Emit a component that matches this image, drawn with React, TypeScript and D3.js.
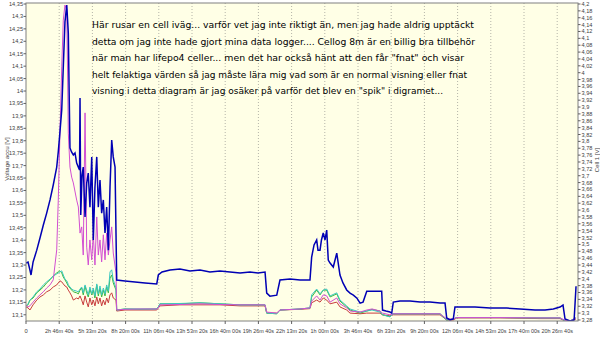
import React from 'react';
import * as d3 from 'd3';

// ---------- data ----------
const accuHours = [
  0, 0.17, 0.33, 0.42, 0.59, 0.9, 1.17, 1.45, 1.73, 2.01,
  2.28, 2.57, 2.7, 2.84, 2.99, 3.12, 3.26, 3.41, 3.54, 3.62,
  3.68, 3.81, 3.96, 4.1, 4.24, 4.38, 4.48, 4.52, 4.58, 4.69,
  4.79, 4.94, 5.08, 5.21, 5.35, 5.5, 5.63, 5.77, 5.92, 6.05,
  6.19, 6.33, 6.47, 6.61, 6.75, 6.89, 7.03, 7.17, 7.3, 7.45,
  7.53, 7.59, 8.28, 9.12, 9.96, 10.94, 11.07, 11.38, 12.05, 12.88,
  13.72, 14.56, 15.39, 16.23, 17.07, 17.91, 18.74, 19.41, 20.0, 20.14,
  20.41, 20.98, 21.25, 22.09, 22.93, 23.76, 23.9, 24.1, 24.32, 24.43,
  24.6, 24.72, 24.87, 25.02, 25.16, 25.29, 25.44, 25.71, 26.0, 26.27,
  26.52, 26.83, 27.11, 27.39, 27.69, 27.95, 28.2, 28.51, 28.95, 29.45,
  29.76, 29.83, 30.12, 30.45, 30.6, 30.73, 31.29, 32.13, 32.97, 33.8,
  34.64, 35.06, 35.2, 35.48, 35.75, 35.89, 36.73, 37.57, 38.82, 40.22,
  41.33, 42.59, 43.43, 44.12, 44.68, 44.93, 45.1, 45.52, 45.86, 46.02,
];
const accuVolt = [
  13.308, 13.312, 13.28, 13.26, 13.312, 13.36, 13.409, 13.461, 13.509, 13.562,
  13.622, 13.694, 13.755, 13.835, 13.924, 14.097, 14.278, 14.346, 14.233, 13.964,
  13.771, 13.755, 13.743, 13.751, 13.71, 13.694, 13.682, 13.972, 13.501, 13.662,
  13.694, 13.493, 13.63, 13.67, 13.533, 13.735, 13.401, 13.614, 13.735, 13.533,
  13.642, 13.509, 13.562, 13.429, 13.533, 13.36, 13.614, 13.803, 13.735, 13.694,
  13.429, 13.24, 13.236, 13.232, 13.228, 13.224, 13.26, 13.272, 13.28, 13.284,
  13.276, 13.28, 13.272, 13.276, 13.272, 13.268, 13.272, 13.268, 13.272, 13.187,
  13.175, 13.179, 13.24, 13.244, 13.24, 13.24, 13.332, 13.381, 13.401, 13.36,
  13.36, 13.401, 13.429, 13.401, 13.441, 13.32, 13.308, 13.292, 13.348, 13.26,
  13.228, 13.2, 13.187, 13.179, 13.167, 13.147, 13.151, 13.195, 13.195, 13.195,
  13.195, 13.119, 13.115, 13.111, 13.107, 13.151, 13.155, 13.155, 13.151, 13.151,
  13.147, 13.147, 13.087, 13.079, 13.083, 13.131, 13.131, 13.131, 13.127, 13.127,
  13.123, 13.119, 13.119, 13.123, 13.131, 13.139, 13.083, 13.075, 13.079, 13.215,
];

const cellHours = [
  0, 0.17, 0.33, 0.59, 0.9, 1.17, 1.45, 1.73, 2.01, 2.28,
  2.57, 2.7, 2.84, 2.99, 3.12, 3.26, 3.41, 3.49, 3.54, 3.68,
  3.82, 3.96, 4.24, 4.38, 4.52, 4.66, 4.79, 4.94, 5.08, 5.21,
  5.35, 5.5, 5.63, 5.77, 5.92, 6.05, 6.19, 6.33, 6.47, 6.61,
  6.75, 6.89, 7.03, 7.17, 7.3, 7.53, 7.59, 8.28, 9.54, 10.94,
  11.07, 11.21, 12.88, 14.56, 16.23, 17.91, 20.0, 20.14, 20.98, 21.25,
  22.93, 23.76, 23.9, 24.32, 24.6, 24.87, 25.16, 25.44, 26.0, 26.27,
  26.83, 27.11, 27.95, 28.51, 28.95, 29.62, 29.83, 30.45, 30.73, 32.97,
  34.64, 35.2, 35.75, 36.04, 39.66, 43.01, 44.68, 45.1, 45.52, 46.02,
];
const cellMagenta = [
  3.324, 3.318, 3.321, 3.332, 3.344, 3.353, 3.362, 3.373, 3.382, 3.397,
  3.484, 3.629, 3.824, 4.017, 4.153, 4.197, 4.183, 3.97, 3.824, 3.725,
  3.696, 3.679, 3.629, 3.609, 3.533, 3.551, 3.469, 3.883, 3.492, 3.44,
  3.513, 3.455, 3.528, 3.44, 3.58, 3.469, 3.513, 3.449, 3.528, 3.455,
  3.533, 3.469, 3.513, 3.551, 3.475, 3.417, 3.309, 3.311, 3.312, 3.312,
  3.315, 3.324, 3.325, 3.327, 3.325, 3.324, 3.324, 3.303, 3.3, 3.309,
  3.312, 3.315, 3.335, 3.35, 3.338, 3.353, 3.35, 3.332, 3.344, 3.327,
  3.315, 3.306, 3.303, 3.309, 3.312, 3.306, 3.3, 3.295, 3.298, 3.298,
  3.298, 3.283, 3.283, 3.287, 3.287, 3.286, 3.286, 3.279, 3.277, 3.286,
];
const cellGreen = [
  3.321, 3.324, 3.338, 3.344, 3.359, 3.367, 3.376, 3.388, 3.397, 3.408,
  3.417, 3.42, 3.423, 3.417, 3.405, 3.397, 3.388, 3.382, 3.379, 3.373,
  3.367, 3.362, 3.359, 3.356, 3.367, 3.373, 3.353, 3.379, 3.359, 3.347,
  3.37, 3.353, 3.367, 3.344, 3.382, 3.35, 3.373, 3.347, 3.367, 3.35,
  3.376, 3.359, 3.402, 3.411, 3.388, 3.367, 3.309, 3.312, 3.311, 3.312,
  3.318, 3.327, 3.327, 3.33, 3.327, 3.324, 3.324, 3.3, 3.298, 3.309,
  3.312, 3.315, 3.347, 3.367, 3.353, 3.367, 3.367, 3.347, 3.356, 3.335,
  3.318, 3.309, 3.3, 3.306, 3.311, 3.306, 3.295, 3.29, 3.298, 3.298,
  3.298, 3.28, 3.283, 3.287, 3.287, 3.286, 3.286, 3.277, 3.277, 3.286,
];
const cellCyan = [
  3.321, 3.327, 3.338, 3.347, 3.362, 3.37, 3.382, 3.391, 3.399, 3.408,
  3.414, 3.417, 3.42, 3.423, 3.411, 3.399, 3.394, 3.388, 3.382, 3.376,
  3.37, 3.367, 3.364, 3.362, 3.37, 3.376, 3.359, 3.382, 3.367, 3.353,
  3.376, 3.356, 3.373, 3.35, 3.385, 3.356, 3.379, 3.353, 3.373, 3.356,
  3.382, 3.364, 3.42, 3.426, 3.397, 3.373, 3.309, 3.312, 3.312, 3.312,
  3.318, 3.327, 3.328, 3.33, 3.327, 3.324, 3.324, 3.3, 3.298, 3.309,
  3.312, 3.315, 3.353, 3.37, 3.356, 3.367, 3.37, 3.35, 3.359, 3.338,
  3.321, 3.312, 3.303, 3.306, 3.309, 3.303, 3.295, 3.289, 3.298, 3.298,
  3.298, 3.28, 3.283, 3.287, 3.287, 3.286, 3.286, 3.277, 3.277, 3.286,
];
const cellRed = [
  3.318, 3.315, 3.309, 3.324, 3.338, 3.347, 3.353, 3.362, 3.367, 3.376,
  3.382, 3.388, 3.394, 3.391, 3.385, 3.379, 3.376, 3.37, 3.367, 3.359,
  3.35, 3.338, 3.344, 3.341, 3.35, 3.338, 3.324, 3.35, 3.332, 3.318,
  3.344, 3.324, 3.338, 3.321, 3.347, 3.327, 3.344, 3.321, 3.338, 3.324,
  3.344, 3.33, 3.353, 3.359, 3.344, 3.338, 3.306, 3.309, 3.309, 3.309,
  3.315, 3.321, 3.324, 3.324, 3.324, 3.321, 3.321, 3.3, 3.3, 3.309,
  3.311, 3.313, 3.33, 3.338, 3.332, 3.344, 3.338, 3.327, 3.332, 3.318,
  3.309, 3.3, 3.298, 3.3, 3.3, 3.3, 3.295, 3.292, 3.295, 3.295,
  3.295, 3.28, 3.28, 3.286, 3.286, 3.284, 3.284, 3.277, 3.277, 3.283,
];

const xTickSeconds = d3.range(0, 17).map((i) => i * 10000);
const xTickLabels = [
  '0', '2h 46m 40s', '5h 33m 20s', '8h 20m 00s', '11h 06m 40s', '13h 53m 20s',
  '16h 40m 00s', '19h 26m 40s', '22h 13m 20s', '1h 00m 00s', '3h 46m 40s',
  '6h 33m 20s', '9h 20m 00s', '12h 06m 40s', '14h 53m 20s', '17h 40m 00s', '20h 26m 40s',
];
const leftTicks = d3.range(262, 288).map((i) => i / 20); // 13.1 .. 14.35
const rightTicks = d3.range(164, 211).map((i) => i / 50); // 3.28 .. 4.2

const noteLines = [
  'Här rusar en cell iväg... varför vet jag inte riktigt än, men jag hade aldrig upptäckt',
  'detta om jag inte hade gjort mina data logger.... Cellog 8m är en billig bra tillbehör',
  'när man har lifepo4 celler... men det har också hänt att den får "fnat" och visar',
  'helt felaktiga värden så jag måste lära mig vad som är en normal visning eller fnat',
  'visning i detta diagram är jag osäker på varför det blev en "spik" i digramet...',
];
const noteWidths = [382, 383, 372, 375, 351];

// ---------- layout ----------
const W = 600;
const H = 337;
const L = 26;
const R = 578;
const T = 3;
const B = 321;

const x = d3.scaleLinear().domain([0, 166265]).range([L, R]);
const yL = d3.scaleLinear().domain([13.075, 14.35]).range([B, T + 1]);
const yR = d3.scaleLinear().domain([3.277, 4.2]).range([B, T + 1]);

const fmt = (v: number) => String(+v.toFixed(2)).replace('.', ',');

function linePath(hours: number[], vals: number[], y: d3.ScaleLinear<number, number>) {
  const pts = hours.map((h, i) => [h * 3600, vals[i]] as [number, number]);
  return d3
    .line<[number, number]>()
    .x((d) => x(d[0]))
    .y((d) => y(d[1]))(pts) as string;
}

const cellSeries = [
  { vals: cellRed, color: '#c83c3c' },
  { vals: cellGreen, color: '#3cb83c' },
  { vals: cellCyan, color: '#3cc8c0' },
  { vals: cellMagenta, color: '#d24fd2' },
];

export default function App() {
  const axisFont = 'Liberation Sans, Arial, sans-serif';
  return (
    <svg
      width={W}
      height={H}
      style={{ position: 'absolute', left: 0, top: 0, background: '#ffffff' }}
    >
      <defs>
        <clipPath id="plotClip">
          <rect x={L} y={T} width={R - L} height={B - T} />
        </clipPath>
      </defs>
      <rect x={0} y={0} width={W} height={H} fill="#ffffff" />
      <rect x={L} y={T} width={R - L} height={B - T} fill="#ffffe6" />
      {/* vertical dotted grid */}
      {xTickSeconds.slice(1).map((s) => (
        <line
          key={'g' + s}
          x1={x(s)}
          x2={x(s)}
          y1={T}
          y2={B}
          stroke="#b4b4a8"
          strokeWidth={1}
          strokeDasharray="1,2"
        />
      ))}
      {/* note text */}
      {noteLines.map((t, i) => (
        <text
          key={'n' + i}
          x={92}
          y={28 + i * 16.5}
          fontFamily="DejaVu Sans, sans-serif"
          fontSize={9.2}
          fill="#000"
          textLength={noteWidths[i]}
          lengthAdjust="spacingAndGlyphs"
        >
          {t}
        </text>
      ))}
      {/* series */}
      <g clipPath="url(#plotClip)" fill="none">
        {cellSeries.map((c, i) => (
          <path key={'c' + i} d={linePath(cellHours, c.vals, yR)} stroke={c.color} strokeWidth={1} />
        ))}
        <path d={linePath(accuHours, accuVolt, yL)} stroke="#0000b4" strokeWidth={1.5} />
      </g>
      {/* frame */}
      <rect x={L} y={T} width={R - L} height={B - T} fill="none" stroke="#808080" strokeWidth={1} />
      <g fontFamily={axisFont} fill="#404040">
        {leftTicks.map((v) => (
          <g key={'l' + v}>
            <line x1={L - 2.5} x2={L} y1={yL(v)} y2={yL(v)} stroke="#606060" />
            <text x={L - 3} y={yL(v) + 2} textAnchor="end" fontSize={5.6}>
              {fmt(v)}
            </text>
          </g>
        ))}
        {rightTicks.map((v) => (
          <g key={'r' + v}>
            <line x1={R} x2={R + 2.5} y1={yR(v)} y2={yR(v)} stroke="#606060" />
            <text x={R + 3.5} y={yR(v) + 2} textAnchor="start" fontSize={5.6}>
              {fmt(v)}
            </text>
          </g>
        ))}
        {xTickSeconds.map((s, i) => (
          <g key={'x' + s}>
            <line x1={x(s)} x2={x(s)} y1={B} y2={B + 3} stroke="#606060" />
            <text
              x={x(s)}
              y={B + 11.5}
              textAnchor="middle"
              fontSize={5.8}
              textLength={i === 0 ? undefined : xTickLabels[i].length * 2.85}
              lengthAdjust="spacingAndGlyphs"
            >
              {xTickLabels[i]}
            </text>
          </g>
        ))}
        <text transform="translate(8.5,159) rotate(-90)" textAnchor="middle" fontSize={6}>
          Voltage accu [V]
        </text>
        <text transform="translate(598.5,160) rotate(-90)" textAnchor="middle" fontSize={6}>
          Cell 1 [V]
        </text>
      </g>
    </svg>
  );
}
